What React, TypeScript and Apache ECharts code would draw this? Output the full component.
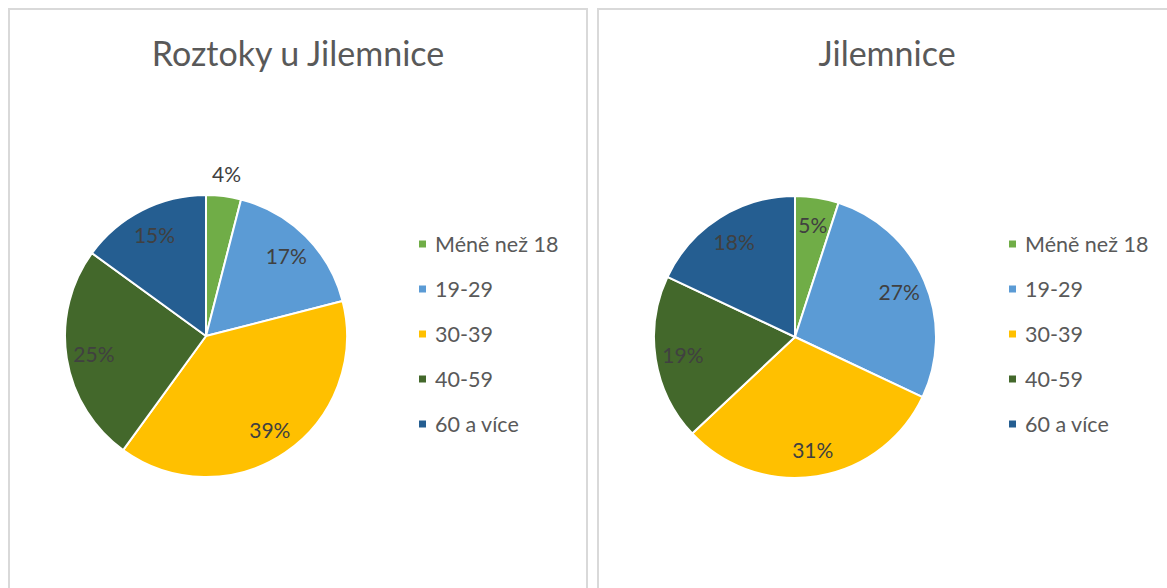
import React, { useEffect, useRef } from "react";
import * as echarts from "echarts";

const categories = ["Méně než 18", "19-29", "30-39", "40-59", "60 a více"];
const colors = ["#70ad47", "#5b9bd5", "#ffc000", "#43682b", "#255e91"];

const titleLeft = "Roztoky u Jilemnice";
const valuesLeft = [4, 17, 39, 25, 15];
const outsideLeft = [0];

const titleRight = "Jilemnice";
const valuesRight = [5, 27, 31, 19, 18];
const outsideRight: number[] = [];

const FONT = "Lato, 'Noto Sans', sans-serif";

function PiePanel(props: {
  title: string;
  values: number[];
  outside: number[];
  left: number;
  cx: number;
  cy: number;
  legendLeft: number;
}) {
  const ref = useRef<HTMLDivElement>(null);
  useEffect(() => {
    if (!ref.current) return;
    const chart = echarts.init(ref.current, undefined, { renderer: "svg" });
    const total = props.values.reduce((a, b) => a + b, 0);
    const fmt = (p: any) => Math.round((p.value / total) * 100) + "%";
    const base = categories.map((c, i) => ({ name: c, value: props.values[i] }));
    const labelOpts = {
      show: true,
      position: "inside",
      formatter: fmt,
      fontFamily: FONT,
      fontSize: 21,
      color: "#404040",
    };
    chart.setOption({
      animation: false,
      title: {
        text: props.title,
        left: "center",
        top: 20,
        textStyle: { fontFamily: FONT, fontSize: 34, fontWeight: "normal", color: "#595959" },
      },
      legend: {
        orient: "vertical",
        left: props.legendLeft,
        top: 217,
        icon: "rect",
        itemWidth: 9,
        itemHeight: 9,
        itemGap: 21,
        data: categories,
        textStyle: {
          fontFamily: FONT,
          fontSize: 21.5,
          color: "#595959",
          lineHeight: 24,
          padding: [0, 0, 0, 3],
        },
      },
      series: [
        {
          type: "pie",
          radius: [0, 141],
          center: [props.cx, props.cy],
          startAngle: 90,
          data: base.map((d, i) => ({ ...d, itemStyle: { color: colors[i] } })),
          itemStyle: { borderColor: "#ffffff", borderWidth: 2 },
          label: { show: false },
          labelLine: { show: false },
          emphasis: { disabled: true },
        },
        {
          type: "pie",
          radius: [80, 141],
          center: [props.cx, props.cy],
          startAngle: 90,
          silent: true,
          data: base.map((d, i) => ({
            ...d,
            label: { show: !props.outside.includes(i) },
          })),
          itemStyle: { color: "rgba(0,0,0,0)" },
          label: labelOpts,
          labelLine: { show: false },
          emphasis: { disabled: true },
        },
        {
          type: "pie",
          radius: [150, 172],
          center: [props.cx, props.cy],
          startAngle: 90,
          silent: true,
          data: base.map((d, i) => ({
            ...d,
            label: { show: props.outside.includes(i) },
          })),
          itemStyle: { color: "rgba(0,0,0,0)" },
          label: labelOpts,
          labelLine: { show: false },
          emphasis: { disabled: true },
        },
      ],
    });
    return () => chart.dispose();
  }, []);
  return (
    <div
      style={{
        position: "absolute",
        left: props.left,
        top: 8,
        width: 580,
        height: 640,
        border: "2px solid #d9d9d9",
        boxSizing: "border-box",
        background: "#ffffff",
      }}
    >
      <div ref={ref} style={{ width: 576, height: 636 }} />
    </div>
  );
}

export default function App() {
  return (
    <div
      style={{
        position: "absolute",
        left: 0,
        top: 0,
        width: 1167,
        height: 588,
        overflow: "hidden",
        background: "#ffffff",
      }}
    >
      <PiePanel title={titleLeft} values={valuesLeft} outside={outsideLeft} left={8} cx={196} cy={326} legendLeft={402} />
      <PiePanel title={titleRight} values={valuesRight} outside={outsideRight} left={597} cx={196} cy={327} legendLeft={403} />
    </div>
  );
}
